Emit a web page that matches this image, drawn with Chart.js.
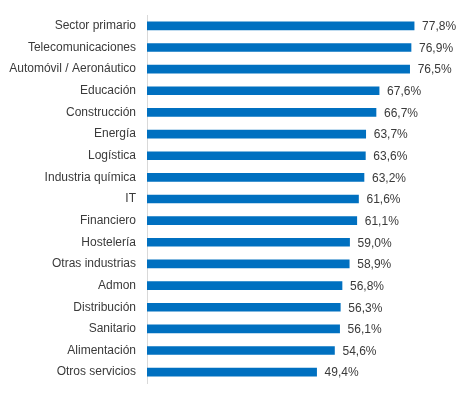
<!DOCTYPE html>
<html lang="es">
<head>
  <meta charset="UTF-8" />
  <title>Sectores</title>
  <script src="https://cdn.jsdelivr.net/npm/chart.js"></script>
  <style>
    body {
      margin: 0;
      background: #fff;
    }

    #wrap {
      width: 471px;
      height: 396px;
    }
  </style>
</head>
<body>

<div id="wrap">
  <canvas id="sectorChart" width="471" height="396"></canvas>
</div>

<script>
  const sectors = [
    "Sector primario", "Telecomunicaciones", "Automóvil / Aeronáutico", "Educación",
    "Construcción", "Energía", "Logística", "Industria química", "IT", "Financiero",
    "Hostelería", "Otras industrias", "Admon", "Distribución", "Sanitario",
    "Alimentación", "Otros servicios"
  ];
  const values = [77.8, 76.9, 76.5, 67.6, 66.7, 63.7, 63.6, 63.2, 61.6, 61.1, 59.0, 58.9, 56.8, 56.3, 56.1, 54.6, 49.4];

  const fontFamily = "'Liberation Sans', Arial, sans-serif";
  const textColor = "#3a3a3a";

  // value labels at the end of each bar, e.g. "77,8%"
  const valueLabels = {
    id: "valueLabels",
    afterDatasetsDraw(chart) {
      const ctx = chart.ctx;
      const meta = chart.getDatasetMeta(0);
      ctx.save();
      ctx.font = "12px " + fontFamily;
      ctx.fillStyle = textColor;
      ctx.textAlign = "left";
      ctx.textBaseline = "middle";
      meta.data.forEach((bar, i) => {
        const txt = values[i].toFixed(1).replace(".", ",") + "%";
        ctx.fillText(txt, bar.x + 8, bar.y + 1);
      });
      ctx.restore();
    }
  };

  new Chart(document.getElementById("sectorChart").getContext("2d"), {
    type: "bar",
    data: {
      labels: sectors,
      datasets: [{
        data: values,
        backgroundColor: "#0070C0",
        barThickness: 8
      }]
    },
    options: {
      indexAxis: "y",
      responsive: false,
      animation: false,
      layout: {
        padding: { top: 15, bottom: 13, left: 0, right: 15 }
      },
      plugins: {
        legend: { display: false },
        tooltip: { enabled: false }
      },
      scales: {
        x: {
          display: false,
          min: 0,
          max: 90
        },
        y: {
          afterFit(scale) {
            scale.width = 147;
            scale.paddingTop = 0;
            scale.paddingBottom = 0;
          },
          grid: { display: false, drawTicks: false },
          border: { display: true, color: "#d9d9d9", width: 1 },
          ticks: {
            color: textColor,
            padding: 11,
            font: { family: fontFamily, size: 12 }
          }
        }
      }
    },
    plugins: [valueLabels]
  });
</script>

</body>
</html>
